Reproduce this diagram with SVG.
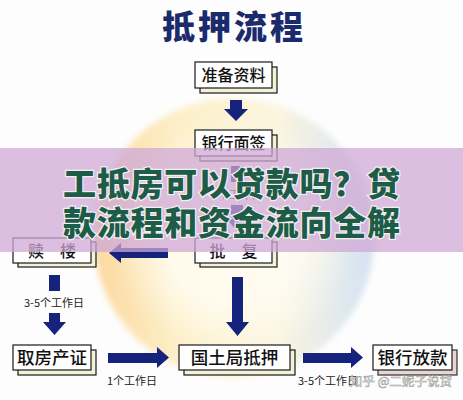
<svg xmlns="http://www.w3.org/2000/svg" width="463" height="400" viewBox="0 0 463 400">
<defs>
<linearGradient id="orb" x1="0" y1="0" x2="1" y2="0">
<stop offset="0" stop-color="#fcd9a0"/>
<stop offset="0.3" stop-color="#fdefc8"/>
<stop offset="0.65" stop-color="#fcf5df"/>
<stop offset="1" stop-color="#d3e2f4"/>
</linearGradient>
<radialGradient id="glow" cx="0.5" cy="0.5" r="0.5">
<stop offset="0.55" stop-color="#fffdf4" stop-opacity="0.8"/>
<stop offset="1" stop-color="#fffdf4" stop-opacity="0"/>
</radialGradient>
<filter id="soft" x="-10%" y="-10%" width="120%" height="120%">
<feGaussianBlur stdDeviation="3"/>
</filter>
<style>
.t{font-family:"Noto Sans CJK SC","Noto Sans",sans-serif;}
.front{fill:#fff;stroke:#1a1a1a;stroke-width:1.2;}
.shadow{fill:#f3f1d6;stroke:#1a1a1a;stroke-width:1.2;}
.shadow2{fill:#e6d6d6;stroke:#3a2a2a;stroke-width:1.2;}
.lbl{font-size:16px;fill:#111;text-anchor:middle;font-weight:500;}
.lbl2{font-size:17.5px;fill:#111;text-anchor:middle;font-weight:500;}
.arr{fill:#15237c;}
.note{font-size:11px;fill:#222;text-anchor:middle;}
</style>
</defs>
<rect width="463" height="400" fill="#fdfdfd"/>
<g filter="url(#soft)">
<circle cx="234" cy="238" r="140" fill="url(#orb)"/>
<circle cx="234" cy="238" r="120" fill="url(#glow)"/>
</g>

<text class="t" x="234" y="39" text-anchor="middle" font-size="33" font-weight="900" letter-spacing="3" fill="#1b2a6d">抵押流程</text>

<g id="connectors">
<polygon class="arr" points="230,100 242,100 242,109 248,109 236,121 224,109 230,109"/>
<polygon class="arr" points="231,166 243,166 243,182 231,182"/>
<polygon class="arr" points="231,205 243,205 243,217 249,217 237,231 225,217 231,217"/>
<text class="t note" x="237" y="199">3个工作日</text>
<polygon class="arr" points="109,253 121,243 121,248 168,248 168,258 121,258 121,263"/>
<polygon class="arr" points="49,275 60,275 60,291 49,291"/>
<text class="t note" x="54" y="307">3-5个工作日</text>
<polygon class="arr" points="49,313 60,313 60,322 66,322 54.5,335 43,322 49,322"/>
<polygon class="arr" points="232,277 243,277 243,322 249,322 237.5,336 226,322 232,322"/>
<polygon class="arr" points="108,353 157,353 157,347 169,357.5 157,368 157,363 108,363"/>
<text class="t note" x="132" y="385">1个工作日</text>
<polygon class="arr" points="303,353 351,353 351,347 363,357.5 351,368 351,363 303,363"/>
<text class="t note" x="328" y="385">3-5个工作日</text>
</g>

<g id="node-zhunbei">
<rect class="shadow" x="200" y="67" width="77" height="26"/>
<rect class="front" x="195" y="62" width="77" height="26"/>
<text class="t lbl" x="233.5" y="81">准备资料</text>
</g>
<g id="node-mianqian">
<rect class="shadow" x="200" y="135" width="77" height="26"/>
<rect class="front" x="195" y="130" width="77" height="26"/>
<text class="t lbl" x="233.5" y="149">银行面签</text>
</g>
<g id="node-shulou">
<rect class="shadow" x="18" y="242" width="78" height="25"/>
<rect class="front" x="13" y="238" width="78" height="25"/>
<text class="t lbl" x="52" y="256.5">赎　楼</text>
</g>
<g id="node-pifu">
<rect class="shadow" x="200" y="242" width="77" height="25"/>
<rect class="front" x="195" y="238" width="77" height="25"/>
<text class="t lbl" x="233.5" y="256.5">批　复</text>
</g>
<g id="node-qufang">
<rect class="shadow" x="18" y="350" width="78" height="25"/>
<rect class="front" x="13" y="345" width="78" height="25"/>
<text class="t lbl2" x="52" y="364">取房产证</text>
</g>
<g id="node-guotu">
<rect class="shadow" x="184" y="350" width="111" height="25"/>
<rect class="front" x="179" y="345" width="111" height="25"/>
<text class="t lbl2" x="234.5" y="364">国土局抵押</text>
</g>
<g id="node-fangkuan">
<rect class="shadow2" x="378" y="350" width="79" height="25"/>
<rect class="front" x="373" y="345" width="79" height="25"/>
<text class="t lbl2" x="412.5" y="364">银行放款</text>
</g>

<g id="banner">
<rect x="0" y="148" width="463" height="104" fill="#cfa8d6" opacity="0.75"/>
<text class="t" x="63" y="196" font-size="33" font-weight="900" fill="#1d5c46" stroke="#f4eef4" stroke-width="2.5" paint-order="stroke" textLength="337" lengthAdjust="spacing">工抵房可以贷款吗？贷</text>
<text class="t" x="63" y="235" font-size="33" font-weight="900" fill="#1d5c46" stroke="#f4eef4" stroke-width="2.5" paint-order="stroke" textLength="337" lengthAdjust="spacing">款流程和资金流向全解</text>
</g>

<text class="t" x="452" y="386" text-anchor="end" font-size="12.5" fill="#f4f4f4" stroke="#9a9a9a" stroke-width="0.5">知乎 @二妮子说贷</text>
</svg>
